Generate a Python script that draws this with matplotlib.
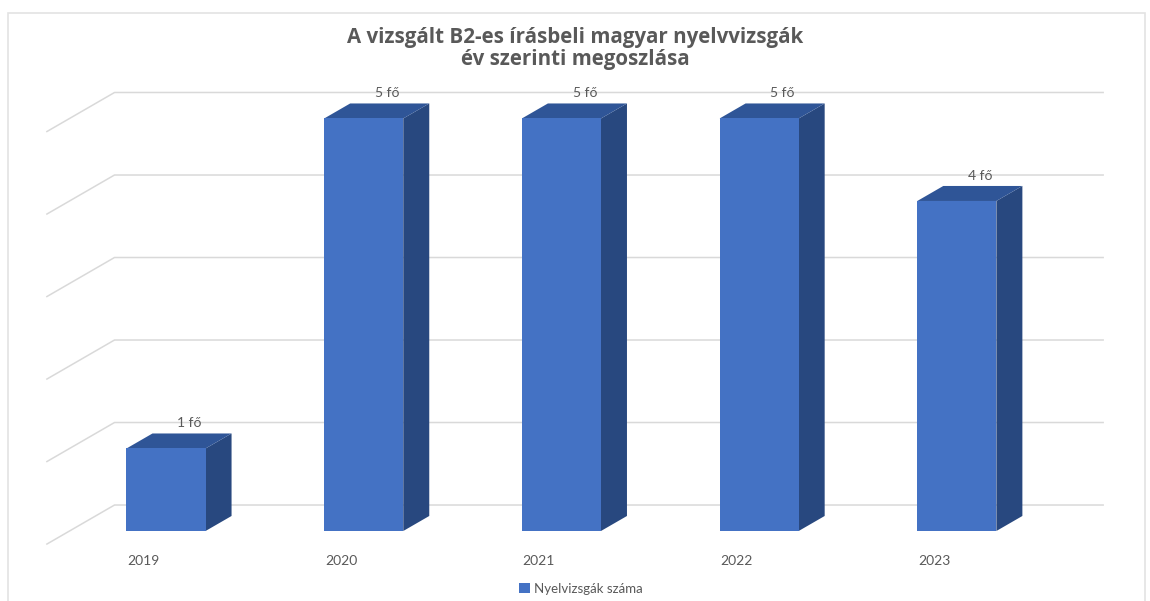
import matplotlib.pyplot as plt
from matplotlib.patches import Polygon, Rectangle, Patch

evek = ["2019", "2020", "2021", "2022", "2023"]
letszam = [1, 5, 5, 5, 4]
cimkek = ["1 fő", "5 fő", "5 fő", "5 fő", "4 fő"]
sorozat = "Nyelvizsgák száma"
cim = "A vizsgált B2-es írásbeli magyar nyelvvizsgák\név szerinti megoszlása"

plt.rcParams['font.family'] = ['Lato', 'DejaVu Sans']

szurke = "#595959"
racs = "#d9d9d9"
elol = "#4472C4"
teto = "#2F5597"
oldal = "#28487F"

# terbeli eltolas egy oszlopmelyseg alatt (adategysegben)
DX, DY = 0.1315, 0.182
W = 0.4
ELSO, HATSO = -0.87, 1.73  # padlo eleje / hatfal melysege
XL, XR = -0.488, 4.74

fig = plt.figure(figsize=(11.5, 6.01), dpi=100)
fig.patch.set_facecolor("white")
ax = fig.add_axes([0, 0, 1, 1])
ax.set_xlim(-0.8397, 4.977)
ax.set_ylim(-0.8485, 6.436)
ax.axis("off")

# keret
fig.patches.append(Rectangle((8 / 1150, -0.01), 1137 / 1150, 1 - 13 / 601 + 0.01,
                             transform=fig.transFigure, fill=False,
                             edgecolor="#e3e3e3", lw=1.2))

# racsvonalak a padlon es a hatfalon
for k in range(6):
    xs = [XL + ELSO * DX, XL + HATSO * DX, XR]
    ys = [k + ELSO * DY, k + HATSO * DY, k + HATSO * DY]
    ax.plot(xs, ys, color=racs, lw=1.1, zorder=1)

for i, v in enumerate(letszam):
    x0, x1 = i - W / 2, i + W / 2
    ax.add_patch(Polygon([(x1, 0), (x1 + DX, DY), (x1 + DX, v + DY), (x1, v)],
                         closed=True, facecolor=oldal, edgecolor="none", zorder=2))
    ax.add_patch(Polygon([(x0, v), (x1, v), (x1 + DX, v + DY), (x0 + DX, v + DY)],
                         closed=True, facecolor=teto, edgecolor="none", zorder=2))
    ax.add_patch(Rectangle((x0, 0), W, v, facecolor=elol, edgecolor="none", zorder=3))
    ax.annotate(cimkek[i], (i + DX * 0.9, v + DY), xytext=(0, 3),
                textcoords="offset points", ha="center", va="bottom",
                fontsize=10, color=szurke, zorder=4)
    ax.text(i + ELSO * DX, -0.364, evek[i], ha="center", va="center",
            fontsize=10, color=szurke)

fig.text(0.5, 1 - 48.5 / 601, cim, ha="center", va="center", fontsize=14.8,
         fontweight="bold", color=szurke, linespacing=1.1,
         family=["Open Sans", "DejaVu Sans"])

fig.legend(handles=[Patch(facecolor=elol, edgecolor="none", label=sorozat)],
           loc="center", bbox_to_anchor=(0.505, 12 / 601), frameon=False,
           fontsize=9.5, labelcolor=szurke, handlelength=0.8, handleheight=0.8,
           handletextpad=0.3)

fig.savefig("out.png", dpi=100, facecolor="white")
